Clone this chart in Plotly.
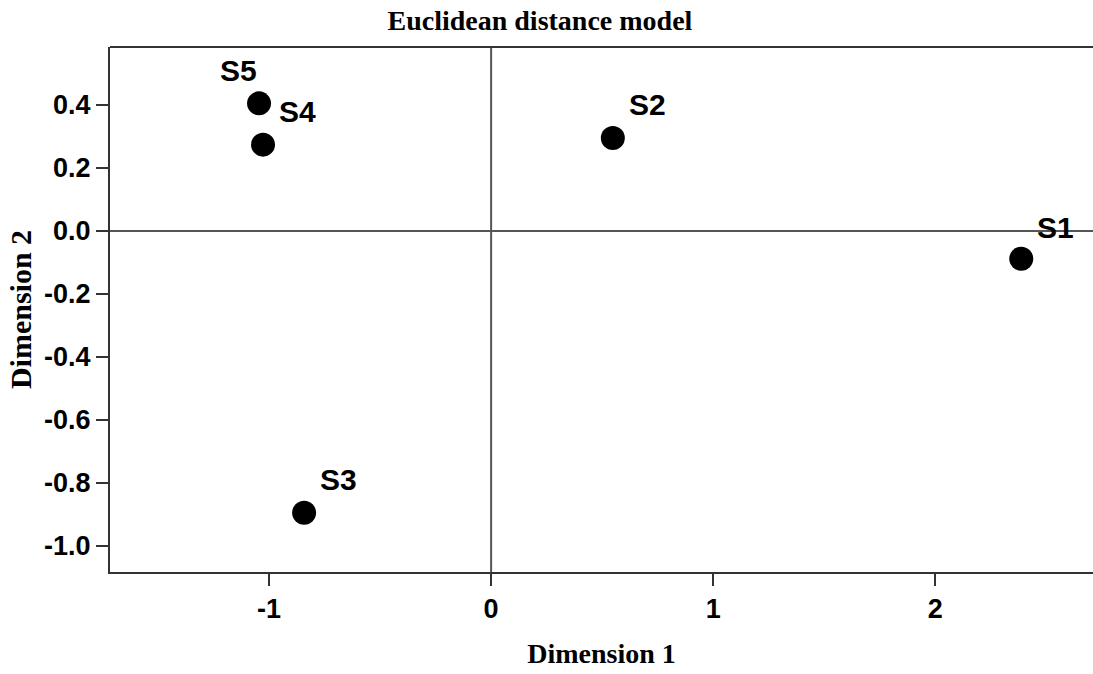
import plotly.graph_objects as go

labels = ["S1", "S2", "S3", "S4", "S5"]
dim1 = [2.387, 0.548, -0.842, -1.027, -1.045]
dim2 = [-0.088, 0.295, -0.895, 0.274, 0.405]
# label offsets in pixels (x, y) relative to each point
label_dx = [34, 35, 34, 34, -21]
label_dy = [31, 34, 33, 33, 33]

x_ticks = [-1, 0, 1, 2]
y_ticks = [-1.0, -0.8, -0.6, -0.4, -0.2, 0.0, 0.2, 0.4]
y_ticktext = ["-1.0", "-0.8", "-0.6", "-0.4", "-0.2", "0.0", "0.2", "0.4"]

fig = go.Figure()
fig.add_trace(go.Scatter(
    x=dim1, y=dim2, mode="markers",
    marker=dict(size=24, color="black"),
    showlegend=False, hoverinfo="text", text=labels,
))

for lab, xv, yv, dx, dy in zip(labels, dim1, dim2, label_dx, label_dy):
    fig.add_annotation(x=xv, y=yv, text=lab, showarrow=False,
                       xshift=dx, yshift=dy,
                       font=dict(family="Liberation Sans, Arial", size=30, color="black", weight="bold"))

axis_color = "#333333"
fig.add_hline(y=0, line=dict(color="#555555", width=2), layer="below")
fig.add_vline(x=0, line=dict(color="#555555", width=2), layer="below")
# top border
fig.add_shape(type="line", xref="paper", yref="paper", x0=0, x1=1, y0=1, y1=1,
              line=dict(color=axis_color, width=2))

fig.update_layout(
    width=1093, height=674,
    margin=dict(l=110, r=0, t=47, b=102),
    paper_bgcolor="white", plot_bgcolor="white",
    title=dict(text="Euclidean distance model", x=0.494, xanchor="center",
               y=0.970, yanchor="middle",
               font=dict(family="Liberation Serif, Times New Roman", size=28, color="black", weight="bold")),
)
fig.update_xaxes(
    range=[-1.716, 2.71], tickvals=x_ticks, ticktext=[str(v) for v in x_ticks],
    showgrid=False, zeroline=False, showline=True, linecolor=axis_color, linewidth=2,
    ticks="outside", ticklen=12, tickwidth=2, tickcolor=axis_color,
    tickfont=dict(family="Liberation Sans, Arial", size=27, color="black", weight="bold"),
    title=dict(text="Dimension 1", standoff=20,
               font=dict(family="Liberation Serif, Times New Roman", size=28, color="black", weight="bold")),
)
fig.update_yaxes(
    range=[-1.083, 0.584], tickvals=y_ticks, ticktext=y_ticktext,
    showgrid=False, zeroline=False, showline=True, linecolor=axis_color, linewidth=2,
    ticks="outside", ticklen=12, tickwidth=2, tickcolor=axis_color,
    tickfont=dict(family="Liberation Sans, Arial", size=27, color="black", weight="bold"),
    title=dict(text="Dimension 2", standoff=4,
               font=dict(family="Liberation Serif, Times New Roman", size=30, color="black", weight="bold")),
)

fig.write_html("out.html")
